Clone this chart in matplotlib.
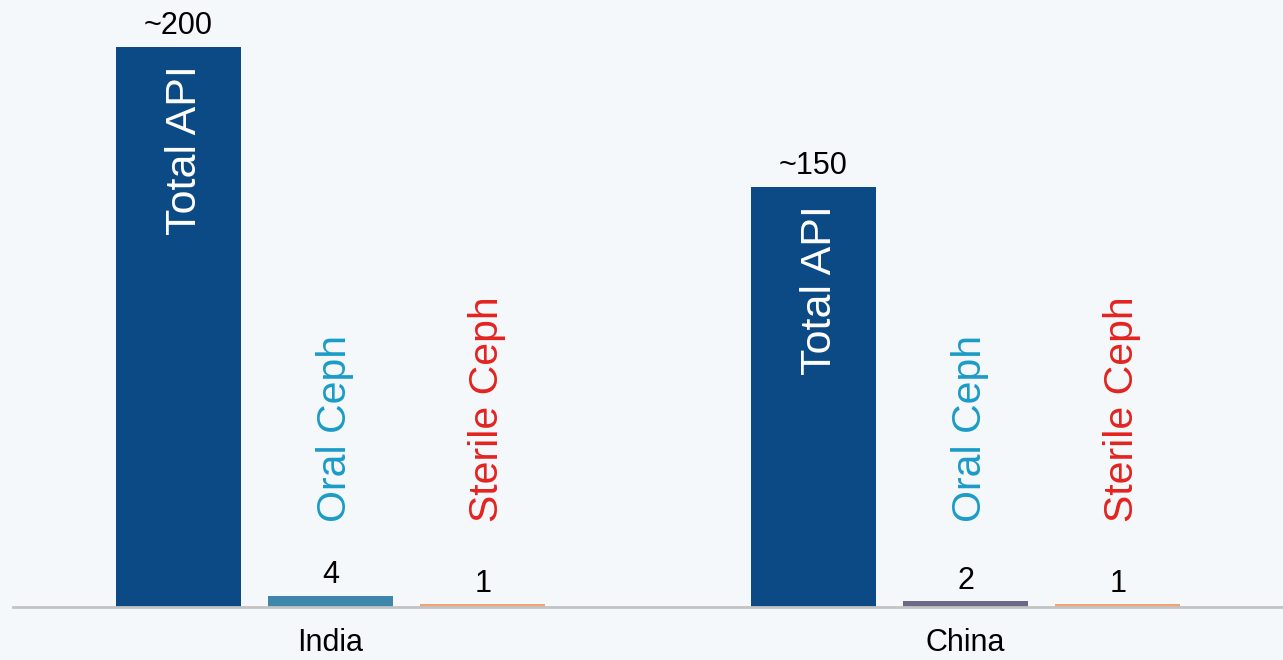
import matplotlib.pyplot as plt
import numpy as np

plt.rcParams['font.family'] = ['Liberation Sans', 'DejaVu Sans']

# Data
countries = ["India", "China"]
series_names = ["Total API", "Oral Ceph", "Sterile Ceph"]
total_api = [200, 150]
oral_ceph = [4, 2]
sterile_ceph = [1, 1]
value_labels = [["~200", "4", "1"], ["~150", "2", "1"]]

# Styling
bg = "#f4f8fb"
total_color = "#0b4a84"
oral_bar_colors = ["#3f87aa", "#6c6888"]
sterile_bar_color = "#f2a36e"
oral_text_color = "#1b9bc8"
sterile_text_color = "#e3231f"

fig = plt.figure(figsize=(12.83, 6.6), dpi=100, facecolor=bg)
ax = fig.add_axes([13 / 1283, 53 / 660, 1270 / 1283, 607 / 660])
ax.set_facecolor(bg)

x = np.arange(len(countries))
step = 0.2396
width = 0.197
series = [total_api, oral_ceph, sterile_ceph]

for gi in range(len(countries)):
    colors = [total_color, oral_bar_colors[gi], sterile_bar_color]
    for si, vals in enumerate(series):
        xpos = x[gi] + (si - 1) * step
        ax.bar(xpos, vals[gi], width=width, color=colors[si], zorder=2)
        ax.annotate(value_labels[gi][si], (xpos, vals[gi]),
                    xytext=(0, 9), textcoords="offset points",
                    ha="center", va="baseline", fontsize=22, color="black")
        if si == 0:
            ax.annotate(series_names[0], (xpos, vals[gi]),
                        xytext=(5, -13), textcoords="offset points",
                        ha="center", va="top", rotation=90,
                        fontsize=31, color="white", zorder=3)
        else:
            tc = oral_text_color if si == 1 else sterile_text_color
            ax.annotate(series_names[si], (xpos, 0),
                        xytext=(3, 61), textcoords="offset points",
                        ha="center", va="bottom", rotation=90,
                        fontsize=29.5, color=tc)

ax.set_xlim(-0.5, 1.5)
ax.set_ylim(0, 607 / 2.8)
for s in ["top", "right", "left"]:
    ax.spines[s].set_visible(False)
ax.spines["bottom"].set_color("#c3c3c3")
ax.spines["bottom"].set_linewidth(2)
ax.set_yticks([])
ax.set_xticks(x)
ax.set_xticklabels(countries, fontsize=22)
ax.tick_params(axis="x", length=0, pad=15)

fig.savefig("out.png", dpi=100, facecolor=bg)
